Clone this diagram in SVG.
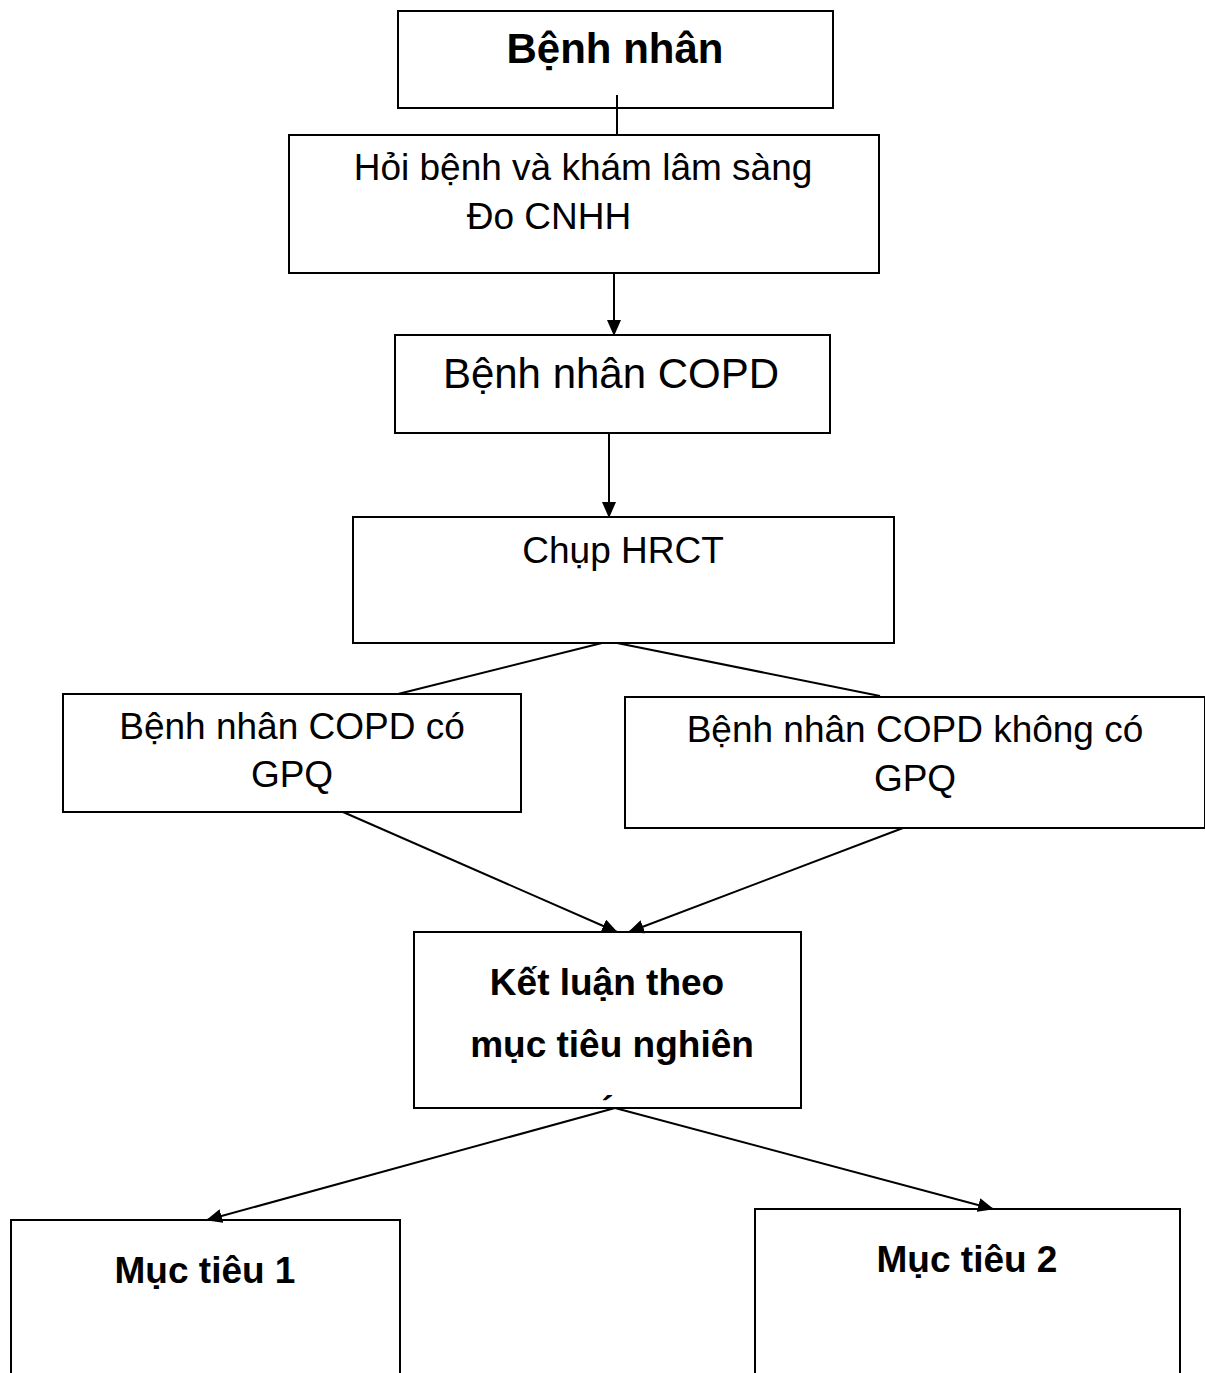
<svg xmlns="http://www.w3.org/2000/svg" width="1205" height="1373" viewBox="0 0 1205 1373">
<style>
.box{fill:#fff;stroke:#000;stroke-width:2}
.t{font-family:"Liberation Sans",Arial,sans-serif;fill:#000;text-anchor:middle;font-size:37px}
.big{font-size:42px}
.b{font-weight:bold}
.c{stroke:#000;stroke-width:2;fill:none}
</style>
<defs>
<marker id="ah" markerWidth="16" markerHeight="14" refX="15" refY="7" orient="auto" markerUnits="userSpaceOnUse">
<path d="M0,0 L16,7 L0,14 Z" fill="#000"/>
</marker>
<clipPath id="clip7"><rect x="414" y="932" width="387" height="170"/></clipPath>
</defs>
<rect width="1205" height="1373" fill="#fff"/>
<g id="n1"><rect class="box" x="398" y="11" width="435" height="97"/><text class="t b big" x="615" y="63">Bệnh nhân</text></g>
<g id="n2"><rect class="box" x="289" y="135" width="590" height="138"/><text class="t" x="583" y="180">Hỏi bệnh và khám lâm sàng</text><text class="t" x="549" y="229">Đo CNHH</text></g>
<g id="n3"><rect class="box" x="395" y="335" width="435" height="98"/><text class="t big" x="611" y="388">Bệnh nhân COPD</text></g>
<g id="n4"><rect class="box" x="353" y="517" width="541" height="126"/><text class="t" x="623" y="563">Chụp HRCT</text></g>
<g id="n5"><rect class="box" x="63" y="694" width="458" height="118"/><text class="t" x="292" y="739">Bệnh nhân COPD có</text><text class="t" x="292" y="787">GPQ</text></g>
<g id="n6"><rect class="box" x="625" y="697" width="580" height="131"/><text class="t" x="915" y="742">Bệnh nhân COPD không có</text><text class="t" x="915" y="791">GPQ</text></g>
<g id="n7"><rect class="box" x="414" y="932" width="387" height="176"/><g clip-path="url(#clip7)"><text class="t b" x="607" y="995">Kết luận theo</text><text class="t b" x="612" y="1057">mục tiêu nghiên</text><text class="t b" x="609" y="1122">cứu</text></g></g>
<g id="n8"><rect class="box" x="11" y="1220" width="389" height="160"/><text class="t b" x="205" y="1283">Mục tiêu 1</text></g>
<g id="n9"><rect class="box" x="755" y="1209" width="425" height="171"/><text class="t b" x="967" y="1272">Mục tiêu 2</text></g>
<g id="connectors">
<line class="c" x1="617" y1="95" x2="617" y2="135"/>
<line class="c" x1="614" y1="274" x2="614" y2="335" marker-end="url(#ah)"/>
<line class="c" x1="609" y1="433" x2="609" y2="517" marker-end="url(#ah)"/>
<line class="c" x1="602" y1="643" x2="398" y2="694"/>
<line class="c" x1="617" y1="643" x2="880" y2="696"/>
<line class="c" x1="343" y1="812" x2="617" y2="932" marker-end="url(#ah)"/>
<line class="c" x1="903" y1="828" x2="629" y2="932" marker-end="url(#ah)"/>
<line class="c" x1="615" y1="1108" x2="207" y2="1220" marker-end="url(#ah)"/>
<line class="c" x1="615" y1="1108" x2="993" y2="1209" marker-end="url(#ah)"/>
</g>
</svg>
